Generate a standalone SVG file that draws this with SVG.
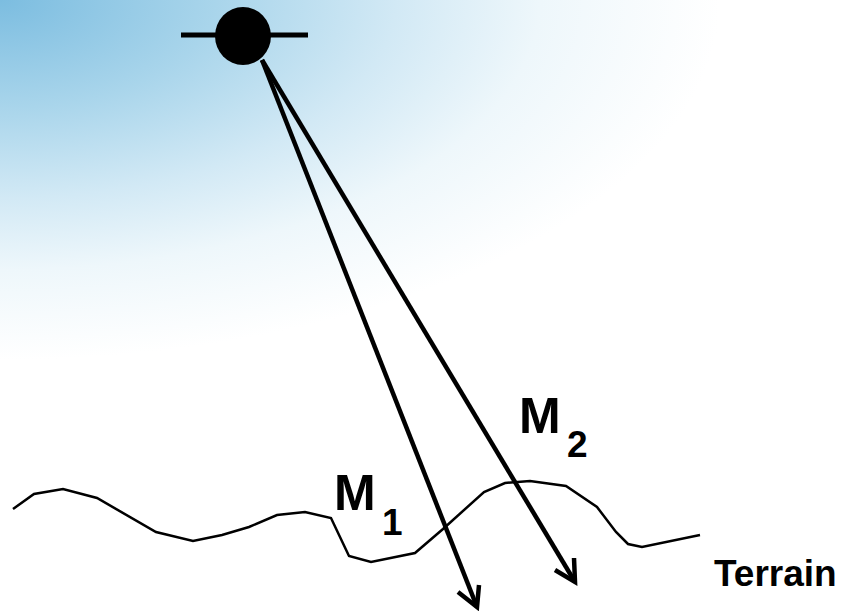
<svg xmlns="http://www.w3.org/2000/svg" width="848" height="611" viewBox="0 0 848 611">
<defs>
<radialGradient id="sky" cx="0" cy="0" r="1" gradientUnits="userSpaceOnUse" gradientTransform="scale(720,360)">
<stop offset="0" stop-color="#7cbde0"/>
<stop offset="0.3" stop-color="#a9d5eb"/>
<stop offset="0.55" stop-color="#d2e9f5"/>
<stop offset="0.75" stop-color="#eef7fb"/>
<stop offset="1" stop-color="#ffffff"/>
</radialGradient>
<style>
.ray{fill:none;stroke:#000;stroke-width:4.5;stroke-linejoin:miter}
.terrain{fill:none;stroke:#000;stroke-width:2.5;stroke-linejoin:miter}
.lbl{font-family:"Liberation Sans",Arial,sans-serif;font-weight:bold;fill:#000}
</style>
</defs>
<rect x="0" y="0" width="848" height="611" fill="url(#sky)"/>
<g id="satellite">
<line x1="181" y1="35" x2="308" y2="35" stroke="#000" stroke-width="5"/>
<ellipse cx="243" cy="36" rx="28" ry="29" fill="#000"/>
</g>
<g id="terrain">
<polyline class="terrain" points="13,509 34,494 63,489 97,498 156,532 193,541 222,535 249,527 277,515 305,512 331,518 349,556 371,562 415,553 443,529 484,492 505,483 530,481 566,486 597,507 616,532 628,544 642,547 700,535"/>
</g>
<g id="connectors">
<polyline class="ray" points="262,60 477,607"/>
<polyline class="ray" points="458,592 477,607 479,585"/>
<polyline class="ray" points="262,60 575,582"/>
<polyline class="ray" points="555,570 575,582 574,558"/>
</g>
<g id="label-m1">
<text class="lbl" x="334" y="510" font-size="50">M</text>
<text class="lbl" x="382" y="535" font-size="37">1</text>
</g>
<g id="label-m2">
<text class="lbl" x="519" y="433" font-size="50">M</text>
<text class="lbl" x="567" y="457" font-size="37">2</text>
</g>
<g id="label-terrain">
<text class="lbl" x="714" y="586" font-size="37">Terrain</text>
</g>
</svg>
